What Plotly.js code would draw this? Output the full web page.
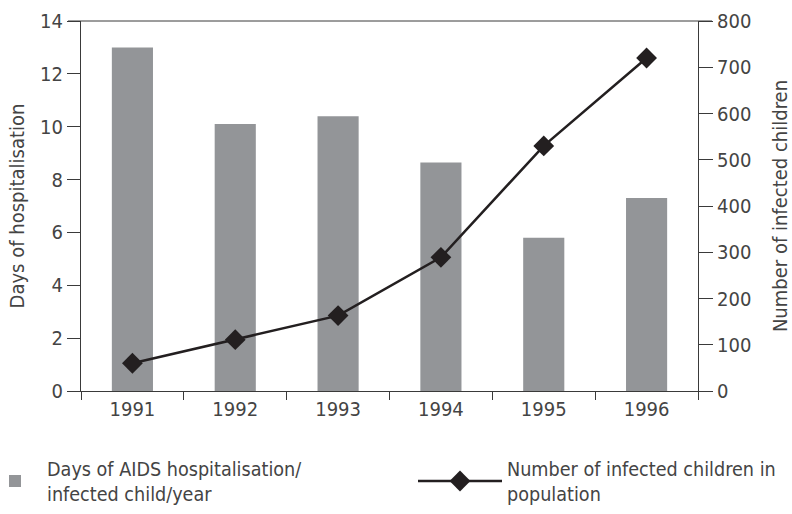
<!DOCTYPE html>
<html>
<head>
<meta charset="utf-8">
<script src="https://cdn.plot.ly/plotly-3.0.1.min.js"></script>
<style>html,body{margin:0;padding:0;background:#fff;}#chart{width:792px;height:514px;}</style>
</head>
<body>
<div id="chart"></div>
<script>
const years = ['1991', '1992', '1993', '1994', '1995', '1996'];
const hospitalDays = [13.0, 10.1, 10.4, 8.65, 5.8, 7.3];
const infectedChildren = [60, 111, 163, 289, 530, 720];
const leftTicks = [0, 2, 4, 6, 8, 10, 12, 14];
const rightTicks = [0, 100, 200, 300, 400, 500, 600, 700, 800];

const FONT = '"DejaVu Sans Condensed", "Liberation Sans Narrow", sans-serif';
const TXT = '#444444';
const AX = '#3a3a3a';

const traces = [
  {
    type: 'bar', x: years, y: hospitalDays, width: 0.4,
    name: 'Days of AIDS hospitalisation/<br>infected child/year',
    marker: {color: '#939598', line: {width: 0}},
    legend: 'legend', hoverinfo: 'x+y'
  },
  {
    type: 'scatter', mode: 'lines+markers', x: years, y: infectedChildren, yaxis: 'y2',
    name: 'Number of infected children in<br>population',
    line: {color: '#231f20', width: 2.5},
    marker: {symbol: 'diamond', size: 16, color: '#231f20'},
    legend: 'legend2'
  }
];

const W = 617, H = 370;
const layout = {
  width: 792, height: 514,
  margin: {l: 81, r: 94, t: 21, b: 123, autoexpand: false},
  paper_bgcolor: '#fff', plot_bgcolor: '#fff',
  font: {family: FONT, size: 20, color: TXT},
  showlegend: true,
  xaxis: {
    type: 'category', range: [-0.5, 5.5], tickson: 'boundaries', automargin: false,
    ticks: 'outside', ticklen: 8, tickcolor: AX, tickwidth: 1,
    showline: true, linecolor: AX, linewidth: 1,
    showgrid: false, zeroline: false, fixedrange: true,
    tickfont: {size: 20, color: TXT}
  },
  yaxis: {
    range: [0, 14], tickvals: leftTicks, ticks: 'outside', ticklen: 13, automargin: false,
    tickcolor: AX, showline: true, linecolor: AX, showgrid: false, zeroline: false,
    tickfont: {size: 20, color: TXT},
    title: {text: 'Days of hospitalisation', font: {size: 20, color: TXT}, standoff: 10}
  },
  yaxis2: {
    range: [0, 800], tickvals: rightTicks, overlaying: 'y', side: 'right', automargin: false,
    ticks: 'outside', ticklen: 14, tickcolor: AX, showline: true, linecolor: AX,
    showgrid: false, zeroline: false,
    tickfont: {size: 20, color: TXT},
    title: {text: 'Number of infected children', font: {size: 20, color: TXT}, standoff: 32}
  },
  legend: {
    orientation: 'h', x: (-17 - 81) / W, xanchor: 'left', y: -58 / H, yanchor: 'top',
    itemwidth: 54, font: {size: 19.6, color: TXT}, bgcolor: 'rgba(0,0,0,0)'
  },
  legend2: {
    orientation: 'h', x: (413 - 81) / W, xanchor: 'left', y: -58 / H, yanchor: 'top',
    itemwidth: 84, font: {size: 19.6, color: TXT}, bgcolor: 'rgba(0,0,0,0)'
  },
  shapes: [
    {type: 'line', xref: 'paper', yref: 'paper', x0: (68 - 81) / W, x1: (712 - 81) / W,
     y0: 1, y1: 1, line: {color: AX, width: 1}}
  ]
};

Plotly.newPlot('chart', traces, layout, {displayModeBar: false, staticPlot: true});
</script>
</body>
</html>
